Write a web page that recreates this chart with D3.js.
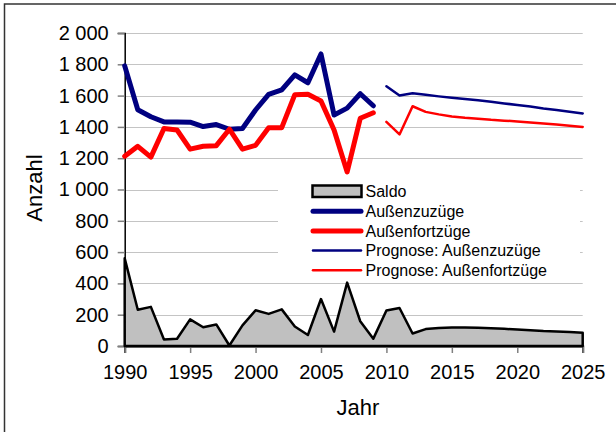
<!DOCTYPE html>
<html>
<head>
<meta charset="utf-8">
<script src="https://cdn.jsdelivr.net/npm/d3@7"></script>
<style>
  body { margin: 0; background: #fff; }
  svg { display: block; font-family: "Liberation Sans", Arial, sans-serif; }
</style>
</head>
<body>
<div id="chart"></div>
<script>
// data
var years_hist = d3.range(1990, 2010);
var zuzuege = [1790, 1510, 1465, 1432, 1432, 1430, 1402, 1415, 1385, 1390,
               1508, 1608, 1636, 1732, 1682, 1866, 1476, 1520, 1612, 1535];
var fortzuege = [1212, 1276, 1207, 1390, 1380, 1258, 1276, 1280, 1385, 1258,
                 1282, 1395, 1395, 1606, 1608, 1566, 1380, 1112, 1455, 1490];

var years_prog = d3.range(2010, 2026);
var prog_zuzuege = [1660, 1600, 1615, 1605, 1595, 1586, 1578, 1570, 1560, 1550,
                    1540, 1530, 1518, 1508, 1497, 1486];
var prog_fortzuege = [1432, 1352, 1532, 1496, 1480, 1466, 1458, 1452, 1445, 1440,
                      1435, 1428, 1422, 1415, 1408, 1400];

var years_saldo = d3.range(1990, 2026);
var saldo = [560, 232, 250, 42, 46, 170, 120, 138, 3, 132,
             228, 205, 234, 125, 70, 300, 92, 405, 158, 47,
             227, 243, 80, 108, 115, 119, 118, 117, 114, 110,
             105, 101, 96, 93, 89, 85];

var y_ticks = d3.range(0, 2001, 200);
var x_ticks = d3.range(1990, 2026, 5);

var legend_items = [
  {label: 'Saldo', type: 'area'},
  {label: 'Außenzuzüge', type: 'line', color: '#000080', width: 5},
  {label: 'Außenfortzüge', type: 'line', color: '#ff0000', width: 5},
  {label: 'Prognose: Außenzuzüge', type: 'line', color: '#000080', width: 2.5},
  {label: 'Prognose: Außenfortzüge', type: 'line', color: '#ff0000', width: 2.5}
];

// SVG
var chart_width = 616;
var chart_height = 432;

var svg = d3.select('#chart')
    .append('svg')
    .attr('width', chart_width)
    .attr('height', chart_height);

// outer frame (right and bottom fall outside the picture)
svg.append('rect')
    .attr('x', 4.5)
    .attr('y', 4)
    .attr('width', 640)
    .attr('height', 460)
    .attr('fill', 'none')
    .attr('stroke', '#333')
    .attr('stroke-width', 1.5);

var x = d3.scaleLinear().domain([1990, 2025]).range([124.7, 582.7]);
var y = d3.scaleLinear().domain([0, 2000]).range([346, 33]);

var locale = d3.formatLocale({decimal: ',', thousands: ' ', grouping: [3], currency: ['', ' €']});
var fmt = locale.format(',');

// gridlines
svg.append('g')
    .selectAll('line')
    .data(y_ticks.filter(function(d){ return d > 0; }))
    .enter()
    .append('line')
    .attr('x1', x(1990))
    .attr('x2', x(2025))
    .attr('y1', function(d){ return Math.round(y(d)) + 0.5; })
    .attr('y2', function(d){ return Math.round(y(d)) + 0.5; })
    .attr('stroke', '#c4c4c4')
    .attr('stroke-width', 1);

// y axis
var y_axis = d3.axisLeft(y)
    .tickValues(y_ticks)
    .tickSize(7)
    .tickPadding(9)
    .tickFormat(fmt);

var gy = svg.append('g')
    .attr('transform', 'translate(' + x(1990) + ',0)')
    .call(y_axis);
gy.select('.domain').attr('stroke', '#000').attr('stroke-width', 1.5);
gy.selectAll('.tick line').attr('stroke', '#808080').attr('stroke-width', 1.5);
gy.selectAll('.tick text')
    .attr('font-size', 20)
    .attr('font-family', '"Liberation Sans", Arial, sans-serif')
    .attr('fill', '#000');

// x axis
var x_axis = d3.axisBottom(x)
    .tickValues(x_ticks)
    .tickSize(7)
    .tickPadding(12)
    .tickFormat(d3.format('d'));

var gx = svg.append('g')
    .attr('transform', 'translate(0,' + y(0) + ')')
    .call(x_axis);
gx.select('.domain').attr('stroke', '#000').attr('stroke-width', 2);
gx.selectAll('.tick line').attr('stroke', '#808080').attr('stroke-width', 1.5);
gx.selectAll('.tick text')
    .attr('font-size', 20)
    .attr('font-family', '"Liberation Sans", Arial, sans-serif')
    .attr('fill', '#000');

// saldo area
var area = d3.area()
    .x(function(d, i){ return x(years_saldo[i]); })
    .y0(y(0))
    .y1(function(d){ return y(d); });

svg.append('path')
    .datum(saldo)
    .attr('d', area)
    .attr('fill', '#c0c0c0')
    .attr('stroke', '#000')
    .attr('stroke-width', 2.5)
    .attr('stroke-linejoin', 'round');

// lines
function draw_line(years, values, color, width) {
  var line = d3.line()
      .x(function(d, i){ return x(years[i]); })
      .y(function(d){ return y(d); });
  svg.append('path')
      .datum(values)
      .attr('d', line)
      .attr('fill', 'none')
      .attr('stroke', color)
      .attr('stroke-width', width)
      .attr('stroke-linejoin', 'round')
      .attr('stroke-linecap', 'round');
}

draw_line(years_hist, zuzuege, '#000080', 5);
draw_line(years_hist, fortzuege, '#ff0000', 5);
draw_line(years_prog, prog_zuzuege, '#000080', 2.5);
draw_line(years_prog, prog_fortzuege, '#ff0000', 2.5);

// legend
var legend = svg.append('g');

legend.append('rect')
    .attr('x', 278)
    .attr('y', 177)
    .attr('width', 302)
    .attr('height', 104)
    .attr('fill', '#fff');

var rows = legend.selectAll('g.item')
    .data(legend_items)
    .enter()
    .append('g')
    .attr('class', 'item')
    .attr('transform', function(d, i){ return 'translate(0,' + (191.5 + i * 19.7) + ')'; });

rows.filter(function(d){ return d.type == 'area'; })
    .append('rect')
    .attr('x', 312.5)
    .attr('y', -6)
    .attr('width', 49)
    .attr('height', 11.5)
    .attr('fill', '#c0c0c0')
    .attr('stroke', '#000')
    .attr('stroke-width', 2.5);

rows.filter(function(d){ return d.type == 'line'; })
    .append('line')
    .attr('x1', 313)
    .attr('x2', 361)
    .attr('y1', 0)
    .attr('y2', 0)
    .attr('stroke', function(d){ return d.color; })
    .attr('stroke-width', function(d){ return d.width; })
    .attr('stroke-linecap', 'round');

rows.append('text')
    .attr('x', 365.5)
    .attr('y', 0)
    .attr('dy', '0.36em')
    .attr('font-size', 16)
    .attr('fill', '#000')
    .text(function(d){ return d.label; });

// axis titles
svg.append('text')
    .attr('transform', 'translate(42,188) rotate(-90)')
    .attr('text-anchor', 'middle')
    .attr('font-size', 22)
    .attr('fill', '#000')
    .text('Anzahl');

svg.append('text')
    .attr('x', 358)
    .attr('y', 415)
    .attr('text-anchor', 'middle')
    .attr('font-size', 22)
    .attr('fill', '#000')
    .text('Jahr');
</script>
</body>
</html>
